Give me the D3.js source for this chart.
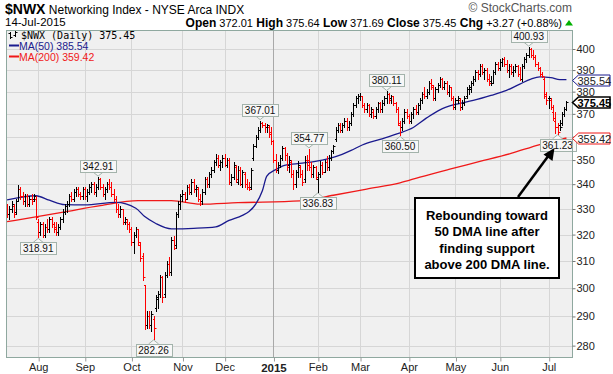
<!DOCTYPE html>
<html>
<head>
<meta charset="utf-8">
<script src="https://cdn.jsdelivr.net/npm/d3@7"></script>
<style>
  body { margin: 0; background: #fff; }
  svg { display: block; font-family: "Liberation Sans", Arial, sans-serif; }
</style>
</head>
<body>
<svg id="chart" width="613" height="374"></svg>
<script>
/* $NWX daily bars, Jul 14 2014 .. Jul 14 2015 */
/* each bar: [open, high, low, close] */
const jul14 = [
  [330, 332, 327, 328], [328, 331, 326, 330], [330, 333, 329, 332], [331, 332, 327, 328],
  [329, 334, 328, 333], [333, 339.6, 333, 338], [338, 339, 334, 335], [335, 337, 332, 333],
  [333, 336, 331, 335], [335, 336, 331, 332], [332, 335, 331, 334], [334, 336, 332, 333],
  [334, 336, 333, 335], [334, 335, 326, 327]
]
const aug14 = [
  [325, 326, 318.91, 321], [321, 325, 320, 324], [324, 325, 319, 320], [320, 324, 319, 323],
  [323, 326, 321, 322], [322, 327, 321, 326], [326, 327, 323, 324], [324, 325, 321, 322],
  [323, 325, 320, 321], [321, 324, 320, 323], [323, 327, 322, 326], [326, 330, 325, 329],
  [329, 332, 328, 331], [331, 333, 329, 332], [332, 336, 331, 335], [335, 337, 333, 334],
  [334, 338, 333, 337], [337, 339, 335, 338], [338, 339, 335, 336], [336, 337, 334, 335],
  [335, 339, 334, 338]
]
const sep14 = [
  [338, 339, 334, 335], [335, 338, 333, 337], [337, 340, 336, 339], [339, 341, 337, 340],
  [340, 341, 336, 337], [337, 340, 335, 339], [339, 342.91, 338, 342], [342, 342.5, 338, 339],
  [339, 340, 335, 336], [336, 339, 334, 338], [338, 341, 337, 340], [340, 342, 338, 339],
  [339, 341, 335, 336], [336, 338, 333, 334], [334, 335, 329, 330], [330, 332, 327, 328],
  [328, 331, 327, 330], [330, 330, 324, 325], [325, 327, 324, 326], [325, 326, 322, 324],
  [324, 325, 321, 322]
]
const oct14 = [
  [322, 323, 316, 317], [317, 321, 313, 320], [320, 323, 319, 322], [322, 322, 316, 317],
  [316, 317, 310, 311], [312, 313, 303, 304], [301, 301, 285.5, 287], [287, 292, 286, 290],
  [290, 292, 286, 287], [287, 292, 285, 291], [289, 290, 282.26, 286], [293, 297.5, 292, 297],
  [296, 299, 293, 298], [298, 304.7, 297, 304], [304, 304.5, 295, 297], [298, 306, 297, 305],
  [305, 310, 304, 309], [309, 311.5, 305, 306], [306, 319, 305, 318], [318, 319.6, 314.5, 315],
  [316, 329, 315, 328], [328, 333, 327, 332], [332, 336, 330, 335]
]
const nov14 = [
  [335, 337.6, 333, 336], [336, 337, 332.6, 334], [334, 339.6, 334, 339], [339, 340, 336, 337],
  [337, 342, 336, 341], [341, 342, 337, 338], [338, 339.6, 335, 339], [338, 339, 333, 334],
  [334, 336, 331.6, 333], [333, 338, 332, 337], [337, 342.9, 336, 342], [342, 343, 339, 340],
  [340, 345, 339, 344], [344, 347, 343, 346], [346, 350, 345, 349], [349, 352.5, 348, 351],
  [351, 352, 347, 348], [348, 350, 346, 349], [349, 352, 347, 351]
]
const dec14 = [
  [351, 352.5, 347.4, 348], [348, 351, 347, 350], [350, 351, 340, 341], [341, 344, 339.5, 343],
  [343, 349, 342, 348], [347, 348, 341, 342], [341, 347.4, 340, 346], [346, 347, 339.5, 340],
  [340, 346, 339, 345], [344, 345, 339, 340], [340, 342, 338, 339], [339, 341, 337.6, 338],
  [339, 346.7, 338, 346], [351, 357, 350, 356], [356, 360.8, 355.6, 360], [360, 364, 359, 363],
  [363, 367.01, 362, 366], [366, 366.5, 364, 365], [365, 366, 362, 364], [364, 365.5, 362, 365],
  [364, 365, 360, 361], [362, 364, 357, 358]
]
const jan15 = [
  [358, 358.5, 349, 350], [350, 352.5, 345, 346], [346, 349, 344.5, 348], [348, 352, 347, 351],
  [351, 356, 350, 355], [355, 355.6, 350, 352], [352, 353, 346, 347], [348, 351.6, 345, 350],
  [349, 350, 343, 344], [344, 346, 338, 340], [340, 346, 339, 345], [345, 349.4, 343, 348],
  [347, 348, 343, 344], [344, 346, 339.5, 341], [342, 351.6, 341, 350], [350, 352, 346, 348],
  [350, 354.77, 346, 347], [347, 349, 343, 344], [344, 348, 343, 347], [347, 347.5, 342, 343]
]
const feb15 = [
  [342, 345, 336.83, 344], [344, 349.4, 343, 348], [348, 349, 344, 345], [345, 350, 345, 349],
  [349, 351.6, 346, 347], [347, 352, 346, 351], [351, 354.4, 350, 354], [354, 356.6, 353, 356],
  [359, 364, 358, 363], [363, 366, 362, 365], [365, 366, 362, 363], [363, 366, 362, 365],
  [365, 368, 364, 367], [367, 368, 363, 364], [364, 367, 363, 366], [366, 371, 365, 370],
  [370, 375, 369, 374], [374, 378, 373, 377], [377, 379, 375, 378]
]
const mar15 = [
  [378, 379.5, 376, 378], [378, 378, 373, 374], [374, 375, 371, 372], [372, 375, 371, 374],
  [374, 374.5, 369, 370], [370, 373, 368.5, 372], [371, 372, 368, 369], [369, 373, 368, 372],
  [372, 375.5, 371, 375], [375, 375.5, 371, 372], [372, 376, 371, 375], [375, 378, 374, 377],
  [377, 380.11, 375, 379], [379, 379.5, 375, 376], [377, 378.5, 375, 378], [378, 378, 374, 375],
  [375, 375.5, 371, 372], [372, 373, 365, 366], [365, 367, 360.5, 364], [364, 368, 363, 367],
  [367, 372, 366, 371], [371, 372, 368, 369]
]
const apr15 = [
  [369, 370, 366, 367], [367, 371, 366, 370], [370, 373, 368, 372], [372, 374, 370, 371],
  [371, 375, 370, 374], [374, 377, 372, 376], [376, 380, 375, 379], [379, 382, 377, 378],
  [378, 381, 377, 380], [380, 385, 379, 384], [384, 386, 381, 383], [382, 383, 376, 377],
  [377, 382, 376, 381], [381, 384, 380, 383], [383, 386.6, 382, 386], [386, 386.5, 381, 382],
  [382, 385, 381, 384], [384, 385, 379, 380], [380, 383, 378, 382], [382, 382, 376, 377],
  [377, 378, 372, 373]
]
const may15 = [
  [373, 377, 372, 376], [376, 378, 375, 377], [376, 377, 371.7, 373], [373, 376, 372, 375],
  [375, 378, 374, 377], [378, 382, 377, 381], [381, 383, 379, 382], [381, 385, 380, 384],
  [384, 387, 383, 386], [386, 390, 385, 389], [389, 390, 386, 388], [388, 393, 387, 392],
  [392, 393, 388, 389], [389, 391, 386, 390], [390, 391, 385, 386], [386, 388, 383, 384],
  [385, 387, 383, 384], [384, 390, 384, 389], [389, 393.6, 388, 393], [393, 394, 390, 391]
]
const jun15 = [
  [391, 395, 390, 394], [394, 395.6, 392, 395], [395, 396, 392, 393], [393, 394.7, 389, 390],
  [390, 393, 386.6, 392], [392, 393, 388, 389], [389, 392, 387, 390], [390, 393, 389, 392],
  [392, 392.5, 387, 388], [388, 391.6, 385.3, 386], [386, 393, 385, 392], [392, 396, 391, 395],
  [395, 398, 394, 397], [397, 400.93, 396, 400], [400, 400.5, 396, 397], [397, 399.5, 395, 396],
  [396, 397, 392, 393], [393, 394, 390, 391], [391, 391.4, 387, 388], [388, 389, 386.6, 387],
  [386, 386.6, 377, 378], [379, 380, 374.5, 376]
]
const jul15 = [
  [377, 378, 372.6, 377], [376, 377, 372, 373], [371, 374, 367.3, 368], [367, 371, 361.6, 364],
  [364, 366, 361.23, 362], [365, 367.3, 363, 364], [366, 371, 365, 370], [370, 373, 369, 372.18],
  [372.01, 375.64, 371.69, 375.45]
]

const monthLabels = ['Aug', 'Sep', 'Oct', 'Nov', 'Dec', '2015', 'Feb', 'Mar', 'Apr', 'May', 'Jun', 'Jul']
const yTicks = [280, 290, 300, 310, 320, 330, 340, 350, 360, 370, 380, 390, 400]

// moving averages, read at a handful of bar positions
const ma50Idx = [0, 13, 19, 26, 35, 49, 58, 62, 67, 74, 84, 94, 100, 106, 109, 112, 115, 117, 121, 125,
  133, 142, 148, 155, 160, 168, 176, 183, 189, 195, 201, 210, 218, 225, 231, 236, 240, 245, 249, 252]
const ma50 = [333.6, 335.3, 333.5, 331.7, 331.6, 332.6, 330.3, 327, 324.3, 322.2, 322.4, 323, 325.5, 327.5,
  329, 331.9, 337.3, 343.3, 346, 347.8, 348.7, 350, 351.4, 354.1, 356.4, 358.8, 361.3, 364, 368.2, 371.8,
  374, 376, 378.3, 380.6, 383.5, 385.8, 386.8, 386.5, 385.5, 385.54]
const ma200Idx = [0, 26, 42, 59, 74, 87, 104, 132, 147, 162, 177, 186, 199, 213, 227, 240, 252]
const ma200 = [325, 328.9, 331.3, 333.3, 333.3, 331.9, 332.5, 333.2, 335.5, 338, 340.5, 342.9, 346.1,
  349.4, 352.8, 356.6, 359.42]

// highs / lows that carry a value box
const calloutIdx = [14, 41, 66, 114, 136, 140, 171, 177, 235, 248]
const calloutSide = ['low', 'high', 'low', 'high', 'high', 'low', 'high', 'low', 'high', 'low']

const noteLines = ['Rebounding toward', '50 DMA line after', 'finding support', 'above 200 DMA line.']

/* ---- setup ---- */
const svg = d3.select('#chart')
const plotL = 6
const plotR = 572
const plotT = 30
const plotB = 357
const BAR_UP = '#000000'
const BAR_DN = '#ff0000'
const MA50_C = '#1a1a8e'
const MA200_C = '#f01818'

const months = [jul14, aug14, sep14, oct14, nov14, dec14, jan15, feb15, mar15, apr15, may15, jun15, jul15]
const bars = months.flat().map((d, i) => ({ i, o: d[0], h: d[1], l: d[2], c: d[3] }))
bars.forEach((b, i) => { b.up = i === 0 ? b.c >= b.o : b.c >= bars[i - 1].c })

const monthStarts = []
let count = 0
months.forEach((m, k) => {
  if (k > 0) monthStarts.push(count)
  count += m.length
})

const x = d3.scaleLinear().domain([-0.5, 254.5]).range([plotL, plotR])
const y = d3.scaleLog().domain([276.2, 409.25]).range([plotB, plotT])
const px = v => Math.round(v) + 0.5

// plot background
svg.append('rect')
  .attr('x', plotL).attr('y', plotT)
  .attr('width', plotR - plotL).attr('height', plotB - plotT)
  .attr('fill', '#f0f0f0')

// grid
svg.append('g').selectAll('line').data(yTicks).join('line')
  .attr('x1', plotL).attr('x2', plotR)
  .attr('y1', d => px(y(d))).attr('y2', d => px(y(d)))
  .attr('stroke', '#d6d6d6')
svg.append('g').selectAll('line').data(monthStarts).join('line')
  .attr('x1', d => px(x(d))).attr('x2', d => px(x(d)))
  .attr('y1', plotT).attr('y2', plotB)
  .attr('stroke', (d, k) => monthLabels[k] === '2015' ? '#a9a9a9' : '#d6d6d6')

// moving averages
const maLine = d3.line().x(d => x(d[0])).y(d => y(d[1])).curve(d3.curveMonotoneX)
svg.append('path')
  .datum(ma200Idx.map((d, k) => [d, ma200[k]]))
  .attr('d', maLine).attr('fill', 'none').attr('stroke', MA200_C).attr('stroke-width', 1.3)
svg.append('path')
  .datum(ma50Idx.map((d, k) => [d, ma50[k]]))
  .attr('d', maLine).attr('fill', 'none').attr('stroke', MA50_C).attr('stroke-width', 1.3)

// OHLC bars
svg.append('g').selectAll('path').data(bars).join('path')
  .attr('d', b => {
    const bx = px(x(b.i))
    return `M${bx},${Math.round(y(b.h))}V${Math.round(y(b.l)) + 1}` +
      `M${bx - 1.5},${px(y(b.o))}H${bx}M${bx},${px(y(b.c))}H${bx + 2}`
  })
  .attr('fill', 'none')
  .attr('stroke', b => b.up ? BAR_UP : BAR_DN)
  .attr('stroke-width', 1)

// value boxes on swing highs / lows
const callouts = svg.append('g').attr('font-size', 10)
calloutIdx.forEach((idx, k) => {
  const b = bars[idx]
  const high = calloutSide[k] === 'high'
  const v = high ? b.h : b.l
  const cx = x(idx)
  const vy = y(v)
  const g = callouts.append('g')
  const t = g.append('text').text(v.toFixed(2)).attr('text-anchor', 'middle').attr('fill', '#111')
  const w = t.node().getComputedTextLength() + 5
  const bh = 12
  const edge = high ? vy - 5 : vy + 5
  const top = high ? edge - bh : edge
  g.insert('rect', 'text')
    .attr('x', Math.round(cx - w / 2) + 0.5).attr('y', Math.round(top) + 0.5)
    .attr('width', Math.round(w)).attr('height', bh)
    .attr('fill', '#f7f7f7').attr('stroke', '#a3b3ab')
  g.insert('path', 'rect')
    .attr('d', `M${cx - 5},${edge}L${cx},${high ? vy - 1 : vy + 1}L${cx + 5},${edge}`)
    .attr('fill', '#f7f7f7').attr('stroke', '#a3b3ab')
  t.attr('x', cx).attr('y', top + 10)
})

// frame
svg.append('rect')
  .attr('x', plotL + 0.5).attr('y', plotT + 0.5)
  .attr('width', plotR - plotL).attr('height', plotB - plotT)
  .attr('fill', 'none').attr('stroke', '#8fa89f')

// last-value tags on the right axis
const last = bars[bars.length - 1]
const tags = [
  { v: ma50[ma50.length - 1], color: MA50_C, bold: false },
  { v: last.c, color: '#000', bold: true },
  { v: ma200[ma200.length - 1], color: MA200_C, bold: false }
]

// axes (a tick label that sits under a tag is hidden, as on the original)
const yAxis = d3.axisRight(y).tickValues(yTicks).tickSize(3).tickFormat(d3.format('d'))
svg.append('g')
  .attr('transform', `translate(${plotR + 0.5},0)`)
  .call(yAxis)
  .attr('font-family', '"Liberation Sans", Arial, sans-serif')
  .attr('font-size', 11)
  .call(g => g.select('.domain').remove())
  .call(g => g.selectAll('.tick line').attr('stroke', '#777'))
  .call(g => g.selectAll('.tick text').attr('x', 4).attr('fill', '#222')
    .style('display', d => tags.some(tg => Math.abs(y(tg.v) - y(d)) < 7) ? 'none' : null))

const xAxis = d3.axisBottom(x).tickValues(monthStarts).tickSize(4).tickPadding(2)
  .tickFormat((d, k) => monthLabels[k])
svg.append('g')
  .attr('transform', `translate(0,${plotB + 0.5})`)
  .call(xAxis)
  .attr('font-family', '"Liberation Sans", Arial, sans-serif')
  .attr('font-size', 11)
  .call(g => g.select('.domain').remove())
  .call(g => g.selectAll('.tick line').attr('stroke', '#999').attr('transform', 'translate(0.5,0)'))
  .call(g => g.selectAll('.tick text')
    .attr('fill', '#222')
    .attr('font-weight', d => monthLabels[monthStarts.indexOf(d)] === '2015' ? 'bold' : null)
    .attr('font-size', d => monthLabels[monthStarts.indexOf(d)] === '2015' ? 11.5 : 11))

tags.forEach(tg => {
  const ty = Math.round(y(tg.v)) + 0.5
  const x0 = plotR + 0.5
  svg.append('polygon')
    .attr('points', `${x0},${ty} ${x0 + 6},${ty - 5.5} ${610},${ty - 5.5} ${610},${ty + 5.5} ${x0 + 6},${ty + 5.5}`)
    .attr('fill', '#fff').attr('stroke', tg.color).attr('stroke-width', tg.bold ? 1.6 : 1)
  svg.append('text')
    .attr('x', x0 + 5).attr('y', ty + 4)
    .attr('font-size', 11).attr('font-weight', tg.bold ? 'bold' : null)
    .attr('fill', tg.bold ? '#000' : '#222')
    .text(tg.v.toFixed(2))
})

// header
const head = svg.append('text').attr('x', 5).attr('y', 14).attr('fill', '#000')
head.append('tspan').attr('font-weight', 'bold').attr('font-size', 14).text('$NWX')
head.append('tspan').attr('font-size', 12).text(' Networking Index - NYSE Arca INDX')
svg.append('text').attr('x', 5).attr('y', 26).attr('font-size', 11.5).text('14-Jul-2015')
svg.append('text').attr('x', 572).attr('y', 12).attr('text-anchor', 'end')
  .attr('font-size', 12).attr('fill', '#555').text('\u00a9 StockCharts.com')

const prevClose = bars[bars.length - 2].c
const chg = last.c - prevClose
const quote = svg.append('text').attr('x', 562).attr('y', 27).attr('text-anchor', 'end').attr('font-size', 11)
const parts = [
  ['Open', last.o.toFixed(2)], ['High', last.h.toFixed(2)], ['Low', last.l.toFixed(2)],
  ['Close', last.c.toFixed(2)], ['Chg', `+${chg.toFixed(2)} (+${(chg / prevClose * 100).toFixed(2)}%)`]
]
parts.forEach((p, k) => {
  quote.append('tspan').attr('font-weight', 'bold').attr('font-size', 12).text((k ? '  ' : '') + p[0])
  quote.append('tspan').text(' ' + p[1])
})
svg.append('path').attr('d', 'M565,25.5L569,20L573,25.5Z').attr('fill', '#00b000')

// legend
const icon = svg.append('g').attr('stroke', '#000').attr('fill', 'none').attr('stroke-width', 1)
icon.append('path').attr('d', 'M10.5,32V39M8.5,33.5H10.5M10.5,37.5H12.5M15.5,31V37M13.5,35.5H15.5M15.5,32.5H17.5')
svg.append('text').attr('x', 21).attr('y', 38.5)
  .attr('font-family', '"DejaVu Sans Mono", monospace').attr('font-size', 10)
  .text(`$NWX (Daily) ${last.c.toFixed(2)}`)
svg.append('line').attr('x1', 9).attr('x2', 19).attr('y1', 45.5).attr('y2', 45.5)
  .attr('stroke', MA50_C).attr('stroke-width', 2)
svg.append('text').attr('x', 19).attr('y', 49.5).attr('font-size', 10.5).attr('fill', MA50_C)
  .text(`MA(50) ${ma50[ma50.length - 1].toFixed(2)}`)
svg.append('line').attr('x1', 9).attr('x2', 19).attr('y1', 56.5).attr('y2', 56.5)
  .attr('stroke', MA200_C).attr('stroke-width', 2)
svg.append('text').attr('x', 19).attr('y', 60.5).attr('font-size', 10.5).attr('fill', MA200_C)
  .text(`MA(200) ${ma200[ma200.length - 1].toFixed(2)}`)

// annotation
svg.append('rect').attr('x', 415).attr('y', 198).attr('width', 144).attr('height', 80)
  .attr('fill', '#fff').attr('stroke', '#000').attr('stroke-width', 2)
svg.append('g').selectAll('text').data(noteLines).join('text')
  .attr('x', 487).attr('y', (d, k) => 220 + k * 16.3)
  .attr('text-anchor', 'middle').attr('font-weight', 'bold').attr('font-size', 13)
  .text(d => d)
svg.append('line').attr('x1', 518).attr('y1', 197).attr('x2', 549).attr('y2', 155)
  .attr('stroke', '#000').attr('stroke-width', 2.5)
svg.append('path').attr('d', 'M554.5,148L552.5,161L543.5,154.5Z').attr('fill', '#000')
</script>
</body>
</html>
